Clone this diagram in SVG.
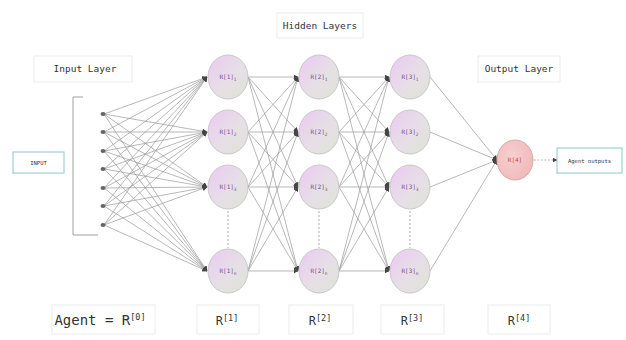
<svg xmlns="http://www.w3.org/2000/svg" width="626" height="340" viewBox="0 0 626 340">
<defs>
<linearGradient id="ng" x1="0" y1="0" x2="1" y2="1">
<stop offset="0" stop-color="#ecc9f3"/>
<stop offset="0.55" stop-color="#e6dfe6"/>
<stop offset="1" stop-color="#dfe3d6"/>
</linearGradient>
<radialGradient id="og" cx="0.4" cy="0.4" r="0.7">
<stop offset="0" stop-color="#f7cfcf"/>
<stop offset="1" stop-color="#efb8b8"/>
</radialGradient>
<marker id="ah" markerWidth="5" markerHeight="5" refX="4.5" refY="2.5" orient="auto" markerUnits="userSpaceOnUse">
<path d="M0,0 L5,2.5 L0,5 Z" fill="#444"/>
</marker>
</defs>
<style>
.c{stroke:#9a9a9a;stroke-width:0.7;fill:none;marker-end:url(#ah)}
.n{fill:url(#ng);stroke:#c8c8c8;stroke-width:1}
.nl{font-family:"DejaVu Sans Mono",monospace;font-size:6px;fill:#7a4a8a;text-anchor:middle}
.lb{font-family:"DejaVu Sans Mono",monospace;font-size:9.5px;fill:#333;text-anchor:middle}
.bl{font-family:"DejaVu Sans Mono",monospace;font-size:14px;fill:#333;text-anchor:middle}
.rl{font-family:"DejaVu Sans Mono",monospace;font-size:12px;fill:#333;text-anchor:middle}
.sp{font-size:8.5px}
.fb{fill:#fff;stroke:#ececec;stroke-width:1}
.dot{fill:#666}
.dash{stroke:#aaa;stroke-width:1;stroke-dasharray:2,2}
</style>
<rect width="626" height="340" fill="#fff"/>

<g id="labels">
<rect class="fb" x="277" y="13" width="86" height="25"/>
<text class="lb" x="320" y="29">Hidden Layers</text>
<rect class="fb" x="34" y="56" width="98" height="26"/>
<text class="lb" x="85" y="72">Input Layer</text>
<rect class="fb" x="478" y="56" width="82" height="26"/>
<text class="lb" x="519" y="72">Output Layer</text>
<rect class="fb" x="52" y="305" width="103" height="29"/>
<text class="bl" x="100" y="325">Agent = R<tspan class="sp" dy="-5">[0]</tspan></text>
<rect class="fb" x="197" y="305" width="62" height="29"/>
<text class="rl" x="227" y="325">R<tspan class="sp" dy="-4">[1]</tspan></text>
<rect class="fb" x="289" y="305" width="64" height="29"/>
<text class="rl" x="320" y="325">R<tspan class="sp" dy="-4">[2]</tspan></text>
<rect class="fb" x="381" y="305" width="63" height="29"/>
<text class="rl" x="412" y="325">R<tspan class="sp" dy="-4">[3]</tspan></text>
<rect class="fb" x="488" y="305" width="62" height="29"/>
<text class="rl" x="519" y="325">R<tspan class="sp" dy="-4">[4]</tspan></text>
</g>

<g id="connectors">
<path d="M83,97 H73 V235 H98" fill="none" stroke="#a0a0a0" stroke-width="1"/>
<line class="c" x1="104" y1="114" x2="207" y2="77"/><line class="c" x1="104" y1="114" x2="207" y2="132"/><line class="c" x1="104" y1="114" x2="207" y2="187"/><line class="c" x1="104" y1="114" x2="207" y2="271"/>
<line class="c" x1="104" y1="132" x2="207" y2="77"/><line class="c" x1="104" y1="132" x2="207" y2="132"/><line class="c" x1="104" y1="132" x2="207" y2="187"/><line class="c" x1="104" y1="132" x2="207" y2="271"/>
<line class="c" x1="104" y1="151" x2="207" y2="77"/><line class="c" x1="104" y1="151" x2="207" y2="132"/><line class="c" x1="104" y1="151" x2="207" y2="187"/><line class="c" x1="104" y1="151" x2="207" y2="271"/>
<line class="c" x1="104" y1="169" x2="207" y2="77"/><line class="c" x1="104" y1="169" x2="207" y2="132"/><line class="c" x1="104" y1="169" x2="207" y2="187"/><line class="c" x1="104" y1="169" x2="207" y2="271"/>
<line class="c" x1="104" y1="188" x2="207" y2="77"/><line class="c" x1="104" y1="188" x2="207" y2="132"/><line class="c" x1="104" y1="188" x2="207" y2="187"/><line class="c" x1="104" y1="188" x2="207" y2="271"/>
<line class="c" x1="104" y1="206" x2="207" y2="77"/><line class="c" x1="104" y1="206" x2="207" y2="132"/><line class="c" x1="104" y1="206" x2="207" y2="187"/><line class="c" x1="104" y1="206" x2="207" y2="271"/>
<line class="c" x1="104" y1="225" x2="207" y2="77"/><line class="c" x1="104" y1="225" x2="207" y2="132"/><line class="c" x1="104" y1="225" x2="207" y2="187"/><line class="c" x1="104" y1="225" x2="207" y2="271"/>

<line class="c" x1="248" y1="77" x2="298" y2="77"/><line class="c" x1="248" y1="77" x2="298" y2="132"/><line class="c" x1="248" y1="77" x2="298" y2="187"/><line class="c" x1="248" y1="77" x2="298" y2="271"/>
<line class="c" x1="248" y1="132" x2="298" y2="77"/><line class="c" x1="248" y1="132" x2="298" y2="132"/><line class="c" x1="248" y1="132" x2="298" y2="187"/><line class="c" x1="248" y1="132" x2="298" y2="271"/>
<line class="c" x1="248" y1="187" x2="298" y2="77"/><line class="c" x1="248" y1="187" x2="298" y2="132"/><line class="c" x1="248" y1="187" x2="298" y2="187"/><line class="c" x1="248" y1="187" x2="298" y2="271"/>
<line class="c" x1="248" y1="271" x2="298" y2="77"/><line class="c" x1="248" y1="271" x2="298" y2="132"/><line class="c" x1="248" y1="271" x2="298" y2="187"/><line class="c" x1="248" y1="271" x2="298" y2="271"/>

<line class="c" x1="339" y1="77" x2="389" y2="77"/><line class="c" x1="339" y1="77" x2="389" y2="132"/><line class="c" x1="339" y1="77" x2="389" y2="187"/><line class="c" x1="339" y1="77" x2="389" y2="271"/>
<line class="c" x1="339" y1="132" x2="389" y2="77"/><line class="c" x1="339" y1="132" x2="389" y2="132"/><line class="c" x1="339" y1="132" x2="389" y2="187"/><line class="c" x1="339" y1="132" x2="389" y2="271"/>
<line class="c" x1="339" y1="187" x2="389" y2="77"/><line class="c" x1="339" y1="187" x2="389" y2="132"/><line class="c" x1="339" y1="187" x2="389" y2="187"/><line class="c" x1="339" y1="187" x2="389" y2="271"/>
<line class="c" x1="339" y1="271" x2="389" y2="77"/><line class="c" x1="339" y1="271" x2="389" y2="132"/><line class="c" x1="339" y1="271" x2="389" y2="187"/><line class="c" x1="339" y1="271" x2="389" y2="271"/>

<line class="c" x1="430" y1="77" x2="497" y2="160"/><line class="c" x1="430" y1="132" x2="497" y2="160"/><line class="c" x1="430" y1="187" x2="497" y2="160"/><line class="c" x1="430" y1="271" x2="497" y2="160"/>
<line class="c" x1="534" y1="160" x2="557" y2="160" stroke-dasharray="2,1.5"/>

<line class="dash" x1="228" y1="211" x2="228" y2="248"/>
<line class="dash" x1="319" y1="211" x2="319" y2="248"/>
<line class="dash" x1="410" y1="211" x2="410" y2="248"/>
</g>

<g id="input-box">
<rect x="13" y="152" width="51" height="21" fill="#fff" stroke="#8cc7cc" stroke-width="1"/>
<text x="38.5" y="165" font-family="DejaVu Sans Mono, monospace" font-size="5.5" fill="#333" text-anchor="middle">INPUT</text>
</g>

<g id="input-dots">
<ellipse class="dot" cx="103" cy="114" rx="2.5" ry="2"/>
<ellipse class="dot" cx="103" cy="132" rx="2.5" ry="2"/>
<ellipse class="dot" cx="103" cy="151" rx="2.5" ry="2"/>
<ellipse class="dot" cx="103" cy="169" rx="2.5" ry="2"/>
<ellipse class="dot" cx="103" cy="188" rx="2.5" ry="2"/>
<ellipse class="dot" cx="103" cy="206" rx="2.5" ry="2"/>
<ellipse class="dot" cx="103" cy="225" rx="2.5" ry="2"/>
</g>

<g id="n11"><ellipse class="n" cx="228" cy="77" rx="20" ry="22"/><text class="nl" x="228" y="79">R[1]<tspan dy="2" font-size="4.5">1</tspan></text></g>
<g id="n12"><ellipse class="n" cx="228" cy="132" rx="20" ry="22"/><text class="nl" x="228" y="134">R[1]<tspan dy="2" font-size="4.5">2</tspan></text></g>
<g id="n13"><ellipse class="n" cx="228" cy="187" rx="20" ry="22"/><text class="nl" x="228" y="189">R[1]<tspan dy="2" font-size="4.5">3</tspan></text></g>
<g id="n1n"><ellipse class="n" cx="228" cy="271" rx="20" ry="22"/><text class="nl" x="228" y="273">R[1]<tspan dy="2" font-size="4.5">n</tspan></text></g>

<g id="n21"><ellipse class="n" cx="319" cy="77" rx="20" ry="22"/><text class="nl" x="319" y="79">R[2]<tspan dy="2" font-size="4.5">1</tspan></text></g>
<g id="n22"><ellipse class="n" cx="319" cy="132" rx="20" ry="22"/><text class="nl" x="319" y="134">R[2]<tspan dy="2" font-size="4.5">2</tspan></text></g>
<g id="n23"><ellipse class="n" cx="319" cy="187" rx="20" ry="22"/><text class="nl" x="319" y="189">R[2]<tspan dy="2" font-size="4.5">3</tspan></text></g>
<g id="n2n"><ellipse class="n" cx="319" cy="271" rx="20" ry="22"/><text class="nl" x="319" y="273">R[2]<tspan dy="2" font-size="4.5">n</tspan></text></g>

<g id="n31"><ellipse class="n" cx="410" cy="77" rx="20" ry="22"/><text class="nl" x="410" y="79">R[3]<tspan dy="2" font-size="4.5">1</tspan></text></g>
<g id="n32"><ellipse class="n" cx="410" cy="132" rx="20" ry="22"/><text class="nl" x="410" y="134">R[3]<tspan dy="2" font-size="4.5">2</tspan></text></g>
<g id="n33"><ellipse class="n" cx="410" cy="187" rx="20" ry="22"/><text class="nl" x="410" y="189">R[3]<tspan dy="2" font-size="4.5">3</tspan></text></g>
<g id="n3n"><ellipse class="n" cx="410" cy="271" rx="20" ry="22"/><text class="nl" x="410" y="273">R[3]<tspan dy="2" font-size="4.5">n</tspan></text></g>

<g id="out-node"><ellipse cx="515" cy="160" rx="18" ry="20" fill="url(#og)" stroke="#d9a8a8" stroke-width="1"/><text x="515" y="162" font-family="DejaVu Sans Mono, monospace" font-size="6" fill="#c04a4a" text-anchor="middle">R[4]</text></g>

<g id="output-box">
<rect x="557" y="148" width="65" height="25" fill="#fff" stroke="#8cc7cc" stroke-width="1"/>
<text x="589.5" y="163" font-family="DejaVu Sans Mono, monospace" font-size="5.5" fill="#333" text-anchor="middle">Agent outputs</text>
</g>
</svg>
